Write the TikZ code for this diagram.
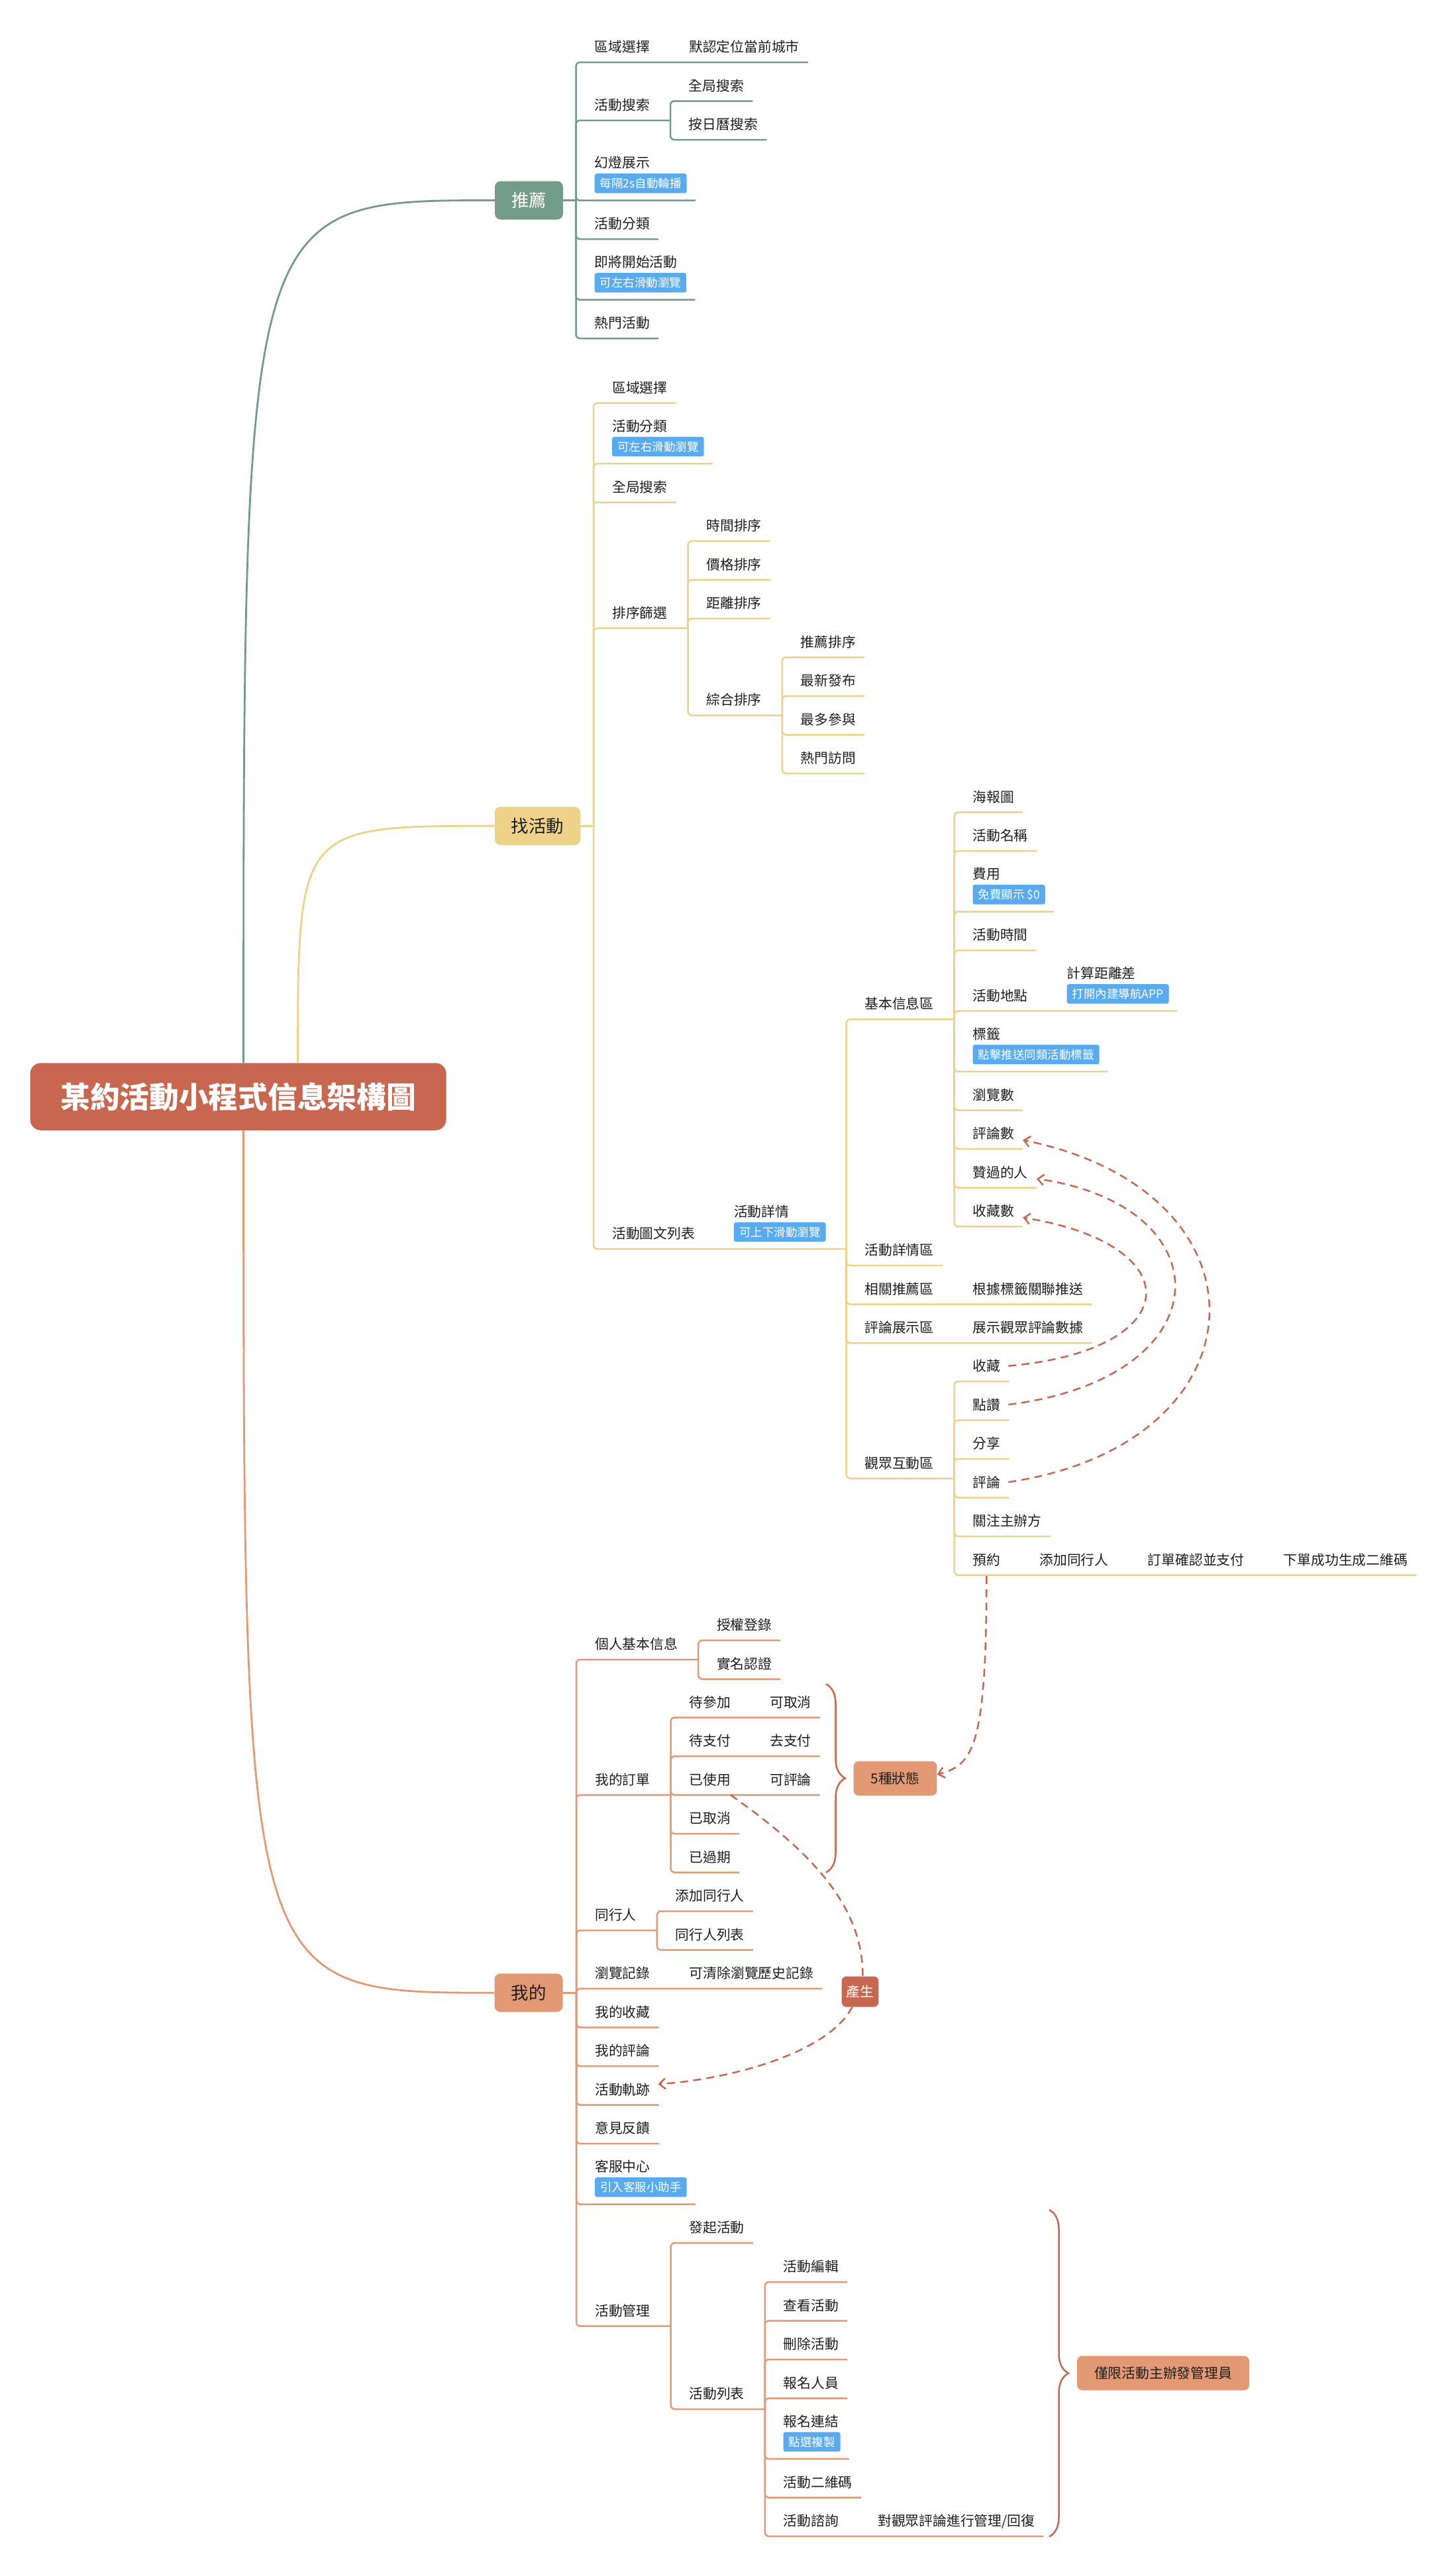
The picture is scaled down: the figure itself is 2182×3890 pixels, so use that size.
\documentclass[tikz,border=0pt]{standalone}
\usepackage{fontspec}
\setmainfont{Noto Sans CJK TC}
\usetikzlibrary{arrows.meta,positioning,decorations.pathreplacing}
\definecolor{sagegrn}{HTML}{739B8A}
\definecolor{gold}{HTML}{EED28A}
\definecolor{salmon}{HTML}{E39A74}
\definecolor{brick}{HTML}{C8674F}
\definecolor{skyblue}{HTML}{5AABEE}
\definecolor{ink}{HTML}{1E1E1E}

\begin{document}
\begin{tikzpicture}[
  x=1pt, y=-1pt,
  itm/.style={anchor=base west, inner sep=0pt, text=ink, font=\fontsize{20.8pt}{24pt}\selectfont},
  chip/.style={anchor=north west, fill=skyblue, text=white, rounded corners=3pt,
    inner xsep=8pt, inner ysep=0pt, minimum height=29.5pt, font=\fontsize{17.5pt}{20pt}\selectfont},
  hub/.style={rounded corners=9pt, minimum height=58pt, inner xsep=25pt, font=\fontsize{26.5pt}{30pt}\selectfont},
  crown/.style={fill=brick, text=white, rounded corners=16pt, minimum width=628pt,
    minimum height=101.5pt, font=\fontsize{44.7pt}{50pt}\selectfont\bfseries},
  note/.style={fill=salmon, text=ink, rounded corners=8pt, minimum height=52pt, inner xsep=26pt,
    font=\fontsize{20.8pt}{24pt}\selectfont},
  gl/.style={sagegrn, line width=2.5pt, rounded corners=6pt},
  yl/.style={gold, line width=2.5pt, rounded corners=6pt},
  ol/.style={salmon, line width=2.5pt, rounded corners=6pt},
  flow/.style={brick, line width=2.5pt, dash pattern=on 12pt off 8pt, -{Straight Barb[length=9pt,width=16pt]}},
  brc/.style={brick, line width=2.5pt, decorate, decoration={brace, amplitude=29pt}},
]
\fill[white] (0,0) rectangle (2182,3890);

% ===== root and hubs =====
\node[crown] (tt) at (359.6,1656) {某約活動小程式信息架構圖};
\node[hub, fill=sagegrn, text=white] (rec) at (798.5,302.5) {推薦};
\node[hub, fill=gold, text=ink] (fnd) at (811.5,1247.25) {找活動};
\node[hub, fill=salmon, text=ink] (me) at (798,3009.25) {我的};

\coordinate (tt-g) at ([xshift=8pt]tt.north);
\coordinate (tt-y) at ([xshift=90pt]tt.north);
\coordinate (tt-o) at ([xshift=8pt]tt.south);
\draw[gl, line width=2.8pt] (tt-g) .. controls (tt-g |- rec.west) .. (rec.west);
\draw[yl, line width=2.8pt] (tt-y) .. controls (tt-y |- fnd.west) .. (fnd.west);
\draw[ol, line width=2.8pt] (tt-o) .. controls (tt-o |- me.west) .. (me.west);

% ===== 推薦 =====
\coordinate (rec-j) at (869.5,302.5);
\draw[gl] (rec.east) -- (rec-j);

\node[itm] (r1) at (897.5,78.5) {區域選擇};
\node[itm, base right=59pt of r1] (r1-a) {默認定位當前城市};
\path (r1-a.base east) ++(13,15.5) coordinate (r1-e);
\draw[gl] (rec-j) |- (r1-e);

\node[itm] (r2) at (897.5,166.25) {活動搜索};
\path (r2.base east) ++(31,15.5) coordinate (r2-j);
\draw[gl] (rec-j) |- (r2-j);
\foreach \nm/\u/\tx in {r2a/152.5/全局搜索, r2b/211/按日曆搜索}{
  \node[itm] (\nm) at (1039.7,\u-15.5) {\tx};
  \path (\nm.base east) ++(13,15.5) coordinate (\nm-e);
  \draw[gl] (r2-j) |- (\nm-e);
}

\foreach \nm/\u/\tx in {r4/361/活動分類, r6/511/熱門活動}{
  \node[itm] (\nm) at (897.5,\u-15.5) {\tx};
  \path (\nm.base east) ++(13,15.5) coordinate (\nm-e);
  \draw[gl] (rec-j) |- (\nm-e);
}
\foreach \nm/\u/\tx/\tg in {r3/302.5/幻燈展示/每隔2s自動輪播, r5/452.5/即將開始活動/可左右滑動瀏覽}{
  \node[itm] (\nm) at (897.5,\u-49) {\tx};
  \node[chip] (\nm-t) at (897.5,\u-40.5) {\tg};
  \path (\nm-t.east) ++(13,25.75) coordinate (\nm-e);
  \draw[gl] (rec-j) |- (\nm-e);
}

% ===== 找活動 =====
\coordinate (fnd-j) at (896,1247.25);
\draw[yl] (fnd.east) -- (fnd-j);

\foreach \nm/\u/\tx in {f1/608.5/區域選擇, f3/758.5/全局搜索}{
  \node[itm] (\nm) at (924,\u-15.5) {\tx};
  \path (\nm.base east) ++(13,15.5) coordinate (\nm-e);
  \draw[yl] (fnd-j) |- (\nm-e);
}
\node[itm] (f2) at (924,651) {活動分類};
\node[chip] (f2-t) at (924,659.5) {可左右滑動瀏覽};
\path (f2-t.east) ++(13,25.75) coordinate (f2-e);
\draw[yl] (fnd-j) |- (f2-e);

% sorting
\node[itm] (f4) at (924,933.1) {排序篩選};
\path (f4.base east) ++(31,15.5) coordinate (f4-j);
\draw[yl] (fnd-j) |- (f4-j);
\foreach \nm/\u/\tx in {f4a/817/時間排序, f4b/875.5/價格排序, f4c/934/距離排序}{
  \node[itm] (\nm) at (1066.2,\u-15.5) {\tx};
  \path (\nm.base east) ++(13,15.5) coordinate (\nm-e);
  \draw[yl] (f4-j) |- (\nm-e);
}
\node[itm] (f4d) at (1066.2,1064.75) {綜合排序};
\path (f4d.base east) ++(31,15.5) coordinate (f4d-j);
\draw[yl] (f4-j) |- (f4d-j);
\foreach \nm/\u/\tx in {s1/992.5/推薦排序, s2/1051/最新發布, s3/1109.5/最多參與, s4/1168/熱門訪問}{
  \node[itm] (\nm) at (1208.4,\u-15.5) {\tx};
  \path (\nm.base east) ++(13,15.5) coordinate (\nm-e);
  \draw[yl] (f4d-j) |- (\nm-e);
}

% list and detail page
\node[itm] (f5) at (924,1870.5) {活動圖文列表};
\node[itm] (f5a) at (1107.8,1837) {活動詳情};
\node[chip] (f5a-t) at (1107.8,1845.5) {可上下滑動瀏覽};
\path (f5a-t.east) ++(31,25.75) coordinate (f5a-j);
\draw[yl] (fnd-j) |- (f5a-j);

\node[itm] (g1) at (1305.3,1523.75) {基本信息區};
\path (g1.base east) ++(31,15.5) coordinate (g1-j);
\draw[yl] (f5a-j) |- (g1-j);
\foreach \nm/\u/\tx in {b1/1226.5/海報圖, b2/1285/活動名稱, b4/1435/活動時間, b7/1676.5/瀏覽數,
    b8/1735/評論數, b9/1793.5/贊過的人, b10/1852/收藏數}{
  \node[itm] (\nm) at (1468.3,\u-15.5) {\tx};
  \path (\nm.base east) ++(13,15.5) coordinate (\nm-e);
  \draw[yl] (g1-j) |- (\nm-e);
}
\foreach \nm/\u/\tx/\tg in {b3/1376.5/費用/免費顯示 \$0, b6/1618/標籤/點擊推送同類活動標籤}{
  \node[itm] (\nm) at (1468.3,\u-49) {\tx};
  \node[chip] (\nm-t) at (1468.3,\u-40.5) {\tg};
  \path (\nm-t.east) ++(13,25.75) coordinate (\nm-e);
  \draw[yl] (g1-j) |- (\nm-e);
}
\node[itm] (b5) at (1468.3,1511) {活動地點};
\node[itm] (b5a) at (1610.5,1477.5) {計算距離差};
\node[chip] (b5a-t) at (1610.5,1486) {打開內建導航APP};
\path (b5a-t.east) ++(13,25.75) coordinate (b5-e);
\draw[yl] (g1-j) |- (b5-e);

\node[itm] (g2) at (1305.3,1895.5) {活動詳情區};
\path (g2.base east) ++(13,15.5) coordinate (g2-e);
\draw[yl] (f5a-j) |- (g2-e);
\foreach \nm/\u/\tx/\ty in {g3/1969.5/相關推薦區/根據標籤關聯推送, g4/2028/評論展示區/展示觀眾評論數據}{
  \node[itm] (\nm) at (1305.3,\u-15.5) {\tx};
  \node[itm, base right=59pt of \nm] (\nm-a) {\ty};
  \path (\nm-a.base east) ++(13,15.5) coordinate (\nm-e);
  \draw[yl] (f5a-j) |- (\nm-e);
}

\node[itm] (g5) at (1305.3,2217) {觀眾互動區};
\path (g5.base east) ++(31,15.5) coordinate (g5-j);
\draw[yl] (f5a-j) |- (g5-j);
\foreach \nm/\u/\tx in {c1/2086/收藏, c2/2144.5/點讚, c3/2203/分享, c4/2261.5/評論, c5/2320/關注主辦方}{
  \node[itm] (\nm) at (1468.3,\u-15.5) {\tx};
  \path (\nm.base east) ++(13,15.5) coordinate (\nm-e);
  \draw[yl] (g5-j) |- (\nm-e);
}
\node[itm] (c6) at (1468.3,2363) {預約};
\node[itm, base right=59pt of c6] (c6a) {添加同行人};
\node[itm, base right=59pt of c6a] (c6b) {訂單確認並支付};
\node[itm, base right=59pt of c6b] (c6c) {下單成功生成二維碼};
\path (c6c.base east) ++(13,15.5) coordinate (c6-e);
\draw[yl] (g5-j) |- (c6-e);

% ===== 我的 =====
\coordinate (me-j) at (870,3009.25);
\draw[ol] (me.east) -- (me-j);

\node[itm] (m1) at (898,2490.5) {個人基本信息};
\path (m1.base east) ++(31,15.5) coordinate (m1-j);
\draw[ol] (me-j) |- (m1-j);
\foreach \nm/\u/\tx in {p1/2477/授權登錄, p2/2535.5/實名認證}{
  \node[itm] (\nm) at (1081.8,\u-15.5) {\tx};
  \path (\nm.base east) ++(13,15.5) coordinate (\nm-e);
  \draw[ol] (m1-j) |- (\nm-e);
}

\node[itm] (m2) at (898,2695) {我的訂單};
\path (m2.base east) ++(31,15.5) coordinate (m2-j);
\draw[ol] (me-j) |- (m2-j);
\foreach \nm/\u/\tx/\ty in {o1/2593.5/待參加/可取消, o2/2652/待支付/去支付, o3/2710.5/已使用/可評論}{
  \node[itm] (\nm) at (1040.2,\u-15.5) {\tx};
  \node[itm, base right=59pt of \nm] (\nm-a) {\ty};
  \path (\nm-a.base east) ++(13,15.5) coordinate (\nm-e);
  \draw[ol] (m2-j) |- (\nm-e);
}
\foreach \nm/\u/\tx in {o4/2769/已取消, o5/2827.5/已過期}{
  \node[itm] (\nm) at (1040.2,\u-15.5) {\tx};
  \path (\nm.base east) ++(13,15.5) coordinate (\nm-e);
  \draw[ol] (m2-j) |- (\nm-e);
}

\node[itm] (m3) at (898,2899.5) {同行人};
\path (m3.base east) ++(31,15.5) coordinate (m3-j);
\draw[ol] (me-j) |- (m3-j);
\foreach \nm/\u/\tx in {q1/2886/添加同行人, q2/2944.5/同行人列表}{
  \node[itm] (\nm) at (1019.4,\u-15.5) {\tx};
  \path (\nm.base east) ++(13,15.5) coordinate (\nm-e);
  \draw[ol] (m3-j) |- (\nm-e);
}

\node[itm] (m4) at (898,2987.5) {瀏覽記錄};
\node[itm, base right=59pt of m4] (m4-a) {可清除瀏覽歷史記錄};
\path (m4-a.base east) ++(13,15.5) coordinate (m4-e);
\draw[ol] (me-j) |- (m4-e);
\foreach \nm/\u/\tx in {m5/3061.5/我的收藏, m6/3120/我的評論, m7/3178.5/活動軌跡, m8/3237/意見反饋}{
  \node[itm] (\nm) at (898,\u-15.5) {\tx};
  \path (\nm.base east) ++(13,15.5) coordinate (\nm-e);
  \draw[ol] (me-j) |- (\nm-e);
}
\node[itm] (m9) at (898,3279.5) {客服中心};
\node[chip] (m9-t) at (898,3288) {引入客服小助手};
\path (m9-t.east) ++(13,25.75) coordinate (m9-e);
\draw[ol] (me-j) |- (m9-e);

% activity management
\node[itm] (m10) at (898,3497) {活動管理};
\path (m10.base east) ++(31,15.5) coordinate (m10-j);
\draw[ol] (me-j) |- (m10-j);
\node[itm] (a1) at (1040.2,3371.5) {發起活動};
\path (a1.base east) ++(13,15.5) coordinate (a1-e);
\draw[ol] (m10-j) |- (a1-e);
\node[itm] (a2) at (1040.2,3622.5) {活動列表};
\path (a2.base east) ++(31,15.5) coordinate (a2-j);
\draw[ol] (m10-j) |- (a2-j);
\foreach \nm/\u/\tx in {l1/3446/活動編輯, l2/3504.5/查看活動, l3/3563/刪除活動, l4/3621.5/報名人員, l6/3771.5/活動二維碼}{
  \node[itm] (\nm) at (1182.4,\u-15.5) {\tx};
  \path (\nm.base east) ++(13,15.5) coordinate (\nm-e);
  \draw[ol] (a2-j) |- (\nm-e);
}
\node[itm] (l5) at (1182.4,3664) {報名連結};
\node[chip] (l5-t) at (1182.4,3672.5) {點選複製};
\path (l5-t.east) ++(13,25.75) coordinate (l5-e);
\draw[ol] (a2-j) |- (l5-e);
\node[itm] (l7) at (1182.4,3814.5) {活動諮詢};
\node[itm, base right=59pt of l7] (l7-a) {對觀眾評論進行管理/回復};
\path (l7-a.base east) ++(13,15.5) coordinate (l7-e);
\draw[ol] (a2-j) |- (l7-e);

% ===== braces and notes =====
\draw[brc] (1247,2543) -- (1247,2827.5);
\node[note] (st) at (1351.5,2685.5) {5種狀態};
\draw[brc] (1584,3337) -- (1584,3830.5);
\node[note] (adm) at (1756,3583.5) {僅限活動主辦發管理員};
\node[note, fill=brick, text=white, inner xsep=7pt, minimum height=46pt, rounded corners=7pt] (chs) at (1298.5,3007.5) {產生};

% ===== dashed relations =====
\draw[flow] ([xshift=12pt]c1.east) .. controls +(268,-23) and +(256,41) .. ([xshift=13pt,yshift=-10pt]b10.east);
\draw[flow] ([xshift=12pt]c2.east) .. controls +(328,-41) and +(285,40) .. ([xshift=13pt,yshift=-10pt]b9.east);
\draw[flow] ([xshift=12pt]c4.east) .. controls +(393,-58) and +(386,78) .. ([xshift=13pt,yshift=-10pt]b8.east);
\draw[flow] ([yshift=-17pt]c6.base) .. controls +(0,260) and +(54,-14) .. ([yshift=6pt]st.east);
\draw[flow, -] ([yshift=-15.5pt]o3.base east) .. controls +(127,90) and +(0,-104) .. ([xshift=4pt]chs.north);
\draw[flow] ([xshift=-12pt]chs.south) .. controls +(-36,70) and +(107,-7) .. ([xshift=12pt,yshift=8pt]m7.east);

\end{tikzpicture}
\end{document}
